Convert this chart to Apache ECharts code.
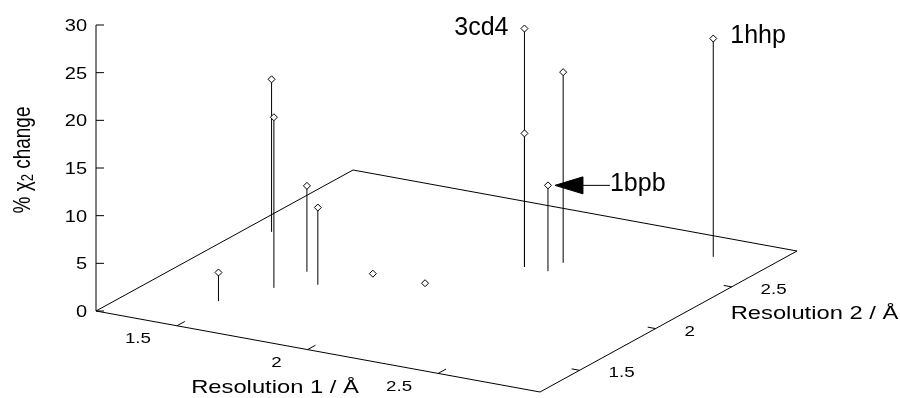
<!DOCTYPE html>
<html>
<head>
<meta charset="utf-8">
<script src="https://cdn.jsdelivr.net/npm/echarts@6/dist/echarts.min.js"></script>
<style>html,body{margin:0;padding:0;background:#fff}#c{width:900px;height:398px}</style>
</head>
<body>
<div id="c"></div>
<script>
// ---------------- data ----------------
const res1 = [1.49, 1.28, 1.58, 1.59, 1.69, 1.79, 1.99, 2.19, 2.19, 2.28, 2.28, 2.68];   // Resolution 1 / Å
const res2 = [1.53, 2.24, 1.74, 1.94, 1.84, 2.03, 2.03, 2.34, 2.34, 2.34, 2.44, 2.74];   // Resolution 2 / Å
const chiChange = [3.0, 16.0, 17.9, 9.0, 8.1, 0, 0, 25.0, 14.0, 9.0, 20.0, 22.9];       // % chi2 change
const pdbIds = ['', '', '', '', '', '', '', '3cd4', '', '1bpb', '', '1hhp'];
const res1Ticks = [1.5, 2, 2.5];
const res2Ticks = [1.5, 2, 2.5];
const chiTicks = [0, 5, 10, 15, 20, 25, 30];
const res1Range = [1.19, 2.89];
const res2Range = [1.24, 2.93];
const chiRange = [0, 30];

// ---------------- layout / style ----------------
const L = { ox: 96, oy: 311, fx: 540, fy: 392, rx: 797, ry: 251, zTop: 25 };
const FONT = 'Liberation Sans, Arial, Helvetica, sans-serif';
const SX = 1.25; // horizontal text stretch seen in the reference
const annot = {
  '3cd4': { mode: 'left', dx: -16, dy: 0 },
  '1hhp': { mode: 'right', dx: 17, dy: -2 },
  '1bpb': { mode: 'arrow', dx: 62, dy: -1 }
};

function proj(a, b, c) {
  const u = (a - res1Range[0]) / (res1Range[1] - res1Range[0]);
  const v = (b - res2Range[0]) / (res2Range[1] - res2Range[0]);
  const w = (c - chiRange[0]) / (chiRange[1] - chiRange[0]);
  return [
    L.ox + u * (L.fx - L.ox) + v * (L.rx - L.fx),
    L.oy + u * (L.fy - L.oy) + v * (L.ry - L.fy) + w * (L.zTop - L.oy)
  ];
}
function unit(p, q, len) {
  const dx = q[0] - p[0], dy = q[1] - p[1];
  const d = Math.sqrt(dx * dx + dy * dy);
  return [dx / d * len, dy / d * len];
}
function txt(x, y, text, size, align, vAlign, extra) {
  return Object.assign({
    type: 'text', x: x, y: y, scaleX: SX,
    style: { x: 0, y: 0, text: text, fontSize: size, fontFamily: FONT, fill: '#000', align: align, verticalAlign: vAlign }
  }, extra || {});
}
const lineStyle = { stroke: '#000', lineWidth: 1 };

// ---------------- render functions ----------------
function renderFrame() {
  const c00 = proj(res1Range[0], res2Range[0], 0);
  const c10 = proj(res1Range[1], res2Range[0], 0);
  const c11 = proj(res1Range[1], res2Range[1], 0);
  const c01 = proj(res1Range[0], res2Range[1], 0);
  const zt = proj(res1Range[0], res2Range[0], chiRange[1]);
  const m1 = proj((res1Range[0] + res1Range[1]) / 2, res2Range[0], 0);
  const m2 = proj(res1Range[1], (res2Range[0] + res2Range[1]) / 2, 0);
  return {
    type: 'group',
    children: [
      { type: 'polygon', shape: { points: [c00, c10, c11, c01] }, style: { fill: 'none', stroke: '#000', lineWidth: 1 } },
      { type: 'line', shape: { x1: c00[0], y1: c00[1], x2: zt[0], y2: zt[1] }, style: lineStyle },
      txt(m1[0] - 43, m1[1] + 36, 'Resolution 1 / Å', 19, 'center', 'middle'),
      txt(m2[0] + 146, m2[1] - 8, 'Resolution 2 / Å', 19, 'center', 'middle'),
      {
        type: 'text', x: 23, y: 160, rotation: Math.PI / 2, scaleY: SX,
        style: {
          x: 0, y: 0, text: '{a|% χ}{s|2}{a| change}', align: 'center', verticalAlign: 'middle',
          fill: '#000', fontFamily: FONT,
          rich: {
            a: { fontSize: 19, fontFamily: FONT, lineHeight: 22, fill: '#000' },
            s: { fontSize: 13, fontFamily: FONT, lineHeight: 13, verticalAlign: 'bottom', fill: '#000' }
          }
        }
      }
    ]
  };
}

function renderChiTick(params, api) {
  const t = api.value(0);
  const p = proj(res1Range[0], res2Range[0], t);
  return {
    type: 'group',
    children: [
      { type: 'line', shape: { x1: p[0], y1: p[1], x2: p[0] + 8, y2: p[1] }, style: lineStyle },
      txt(p[0] - 9, p[1] + 1.5, String(t), 16, 'right', 'middle')
    ]
  };
}
function renderRes1Tick(params, api) {
  const t = api.value(0);
  const p = proj(t, res2Range[0], 0);
  const d = unit(p, proj(t, res2Range[1], 0), 9);
  return {
    type: 'group',
    children: [
      { type: 'line', shape: { x1: p[0], y1: p[1], x2: p[0] + d[0], y2: p[1] + d[1] }, style: lineStyle },
      txt(p[0] - 26, p[1] + 13.5, String(t), 15, 'right', 'middle')
    ]
  };
}
function renderRes2Tick(params, api) {
  const t = api.value(0);
  const p = proj(res1Range[1], t, 0);
  const d = unit(p, proj(res1Range[0], t, 0), 8);
  return {
    type: 'group',
    children: [
      { type: 'line', shape: { x1: p[0], y1: p[1], x2: p[0] + d[0], y2: p[1] + d[1] }, style: lineStyle },
      txt(p[0] + 29, p[1] + 3, String(t), 15, 'left', 'middle')
    ]
  };
}
function renderPoint(params, api) {
  const x = api.value(0), y = api.value(1), z = api.value(2);
  const base = proj(x, y, chiRange[0]);
  const top = proj(x, y, z);
  const children = [];
  if (z > chiRange[0]) {
    children.push({ type: 'line', shape: { x1: base[0], y1: base[1], x2: top[0], y2: top[1] }, style: lineStyle });
  }
  const r = 3.5;
  children.push({
    type: 'polygon',
    shape: { points: [[top[0], top[1] - r], [top[0] + r, top[1]], [top[0], top[1] + r], [top[0] - r, top[1]]] },
    style: { fill: '#fff', stroke: '#000', lineWidth: 1 }
  });
  const name = pdbIds[params.dataIndex];
  if (name && annot[name]) {
    const a = annot[name];
    const ty = top[1] + a.dy;
    if (a.mode === 'left') {
      children.push({ type: 'text', x: top[0] + a.dx, y: ty, style: { x: 0, y: 0, text: name, fontSize: 25, fontFamily: FONT, fill: '#000', align: 'right', verticalAlign: 'middle' } });
    } else if (a.mode === 'right') {
      children.push({ type: 'text', x: top[0] + a.dx, y: ty, style: { x: 0, y: 0, text: name, fontSize: 25, fontFamily: FONT, fill: '#000', align: 'left', verticalAlign: 'middle' } });
    } else {
      const tip = top[0] + 7, hb = top[0] + 35;
      children.push({ type: 'polygon', shape: { points: [[tip, top[1]], [hb, top[1] - 8.5], [hb, top[1] + 8.5]] }, style: { fill: '#000', stroke: '#000', lineWidth: 1 } });
      children.push({ type: 'line', shape: { x1: hb, y1: top[1], x2: top[0] + a.dx, y2: top[1] }, style: lineStyle });
      children.push({ type: 'text', x: top[0] + a.dx, y: ty, style: { x: 0, y: 0, text: name, fontSize: 25, fontFamily: FONT, fill: '#000', align: 'left', verticalAlign: 'middle' } });
    }
  }
  return { type: 'group', children: children };
}

// ---------------- chart ----------------
const pointData = res1.map((v, i) => [v, res2[i], chiChange[i]]);
const chart = echarts.init(document.getElementById('c'), null, { renderer: 'canvas' });
chart.setOption({
  animation: false,
  backgroundColor: '#fff',
  series: [
    { type: 'custom', coordinateSystem: 'none', silent: true, data: [[0]], renderItem: renderFrame },
    { type: 'custom', coordinateSystem: 'none', silent: true, data: chiTicks.map(t => [t]), renderItem: renderChiTick },
    { type: 'custom', coordinateSystem: 'none', silent: true, data: res1Ticks.map(t => [t]), renderItem: renderRes1Tick },
    { type: 'custom', coordinateSystem: 'none', silent: true, data: res2Ticks.map(t => [t]), renderItem: renderRes2Tick },
    { type: 'custom', coordinateSystem: 'none', silent: true, data: pointData, renderItem: renderPoint }
  ]
});
</script>
</body>
</html>
